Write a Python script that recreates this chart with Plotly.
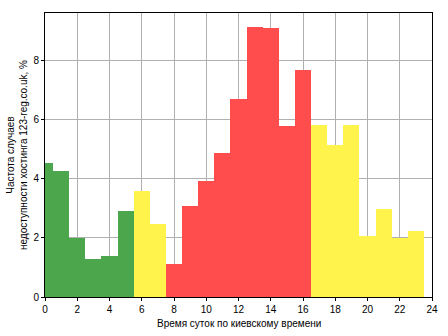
import plotly.graph_objects as go

hours = list(range(24))
values = [4.53, 4.26, 2.0, 1.3, 1.4, 2.92, 3.58, 2.47, 1.12, 3.07, 3.92, 4.86,
          6.69, 9.12, 9.09, 5.78, 7.67, 5.81, 5.14, 5.81, 2.07, 2.97, 2.0, 2.24]
groups = ["g"] * 6 + ["y"] * 2 + ["r"] * 9 + ["y"] * 7
palette = {"g": "#4ca64c", "y": "#fff34c", "r": "#ff4c4c"}
colors = [palette[g] for g in groups]

x_ticks = list(range(0, 25, 2))
y_ticks = [0, 2, 4, 6, 8]
x_title = "Время суток по киевскому времени"
y_title = "Частота случаев<br>недоступности хостинга 123-reg.co.uk, %"

fig = go.Figure(go.Bar(x=hours, y=values, width=1, marker=dict(color=colors, line=dict(width=0))))

axis_common = dict(showline=True, linecolor="black", linewidth=1, mirror=True,
                   showgrid=True, gridcolor="#b0b0b0", gridwidth=1, zeroline=False,
                   ticks="outside", ticklen=3, tickcolor="black", automargin=False,
                   tickfont=dict(family="Liberation Sans, Arial", size=10, color="black"))

fig.update_layout(
    width=448, height=336,
    margin=dict(l=45, r=16, t=13, b=39),
    plot_bgcolor="white", paper_bgcolor="white",
    bargap=0, showlegend=False,
    font=dict(family="Liberation Sans, Arial", size=10, color="black"),
    xaxis=dict(range=[0, 24], tickvals=x_ticks, **axis_common),
    yaxis=dict(range=[0, 9.6], tickvals=y_ticks, **axis_common),
    annotations=[
        dict(text=x_title, xref="paper", yref="paper", x=0.5, y=0, xanchor="center",
             yanchor="middle", yshift=-26, showarrow=False, font=dict(size=10)),
        dict(text=y_title, xref="paper", yref="paper", x=0, y=0.5, xanchor="center",
             yanchor="middle", xshift=-28, textangle=-90, showarrow=False, font=dict(size=10)),
    ],
)
fig.write_html("out.html")
